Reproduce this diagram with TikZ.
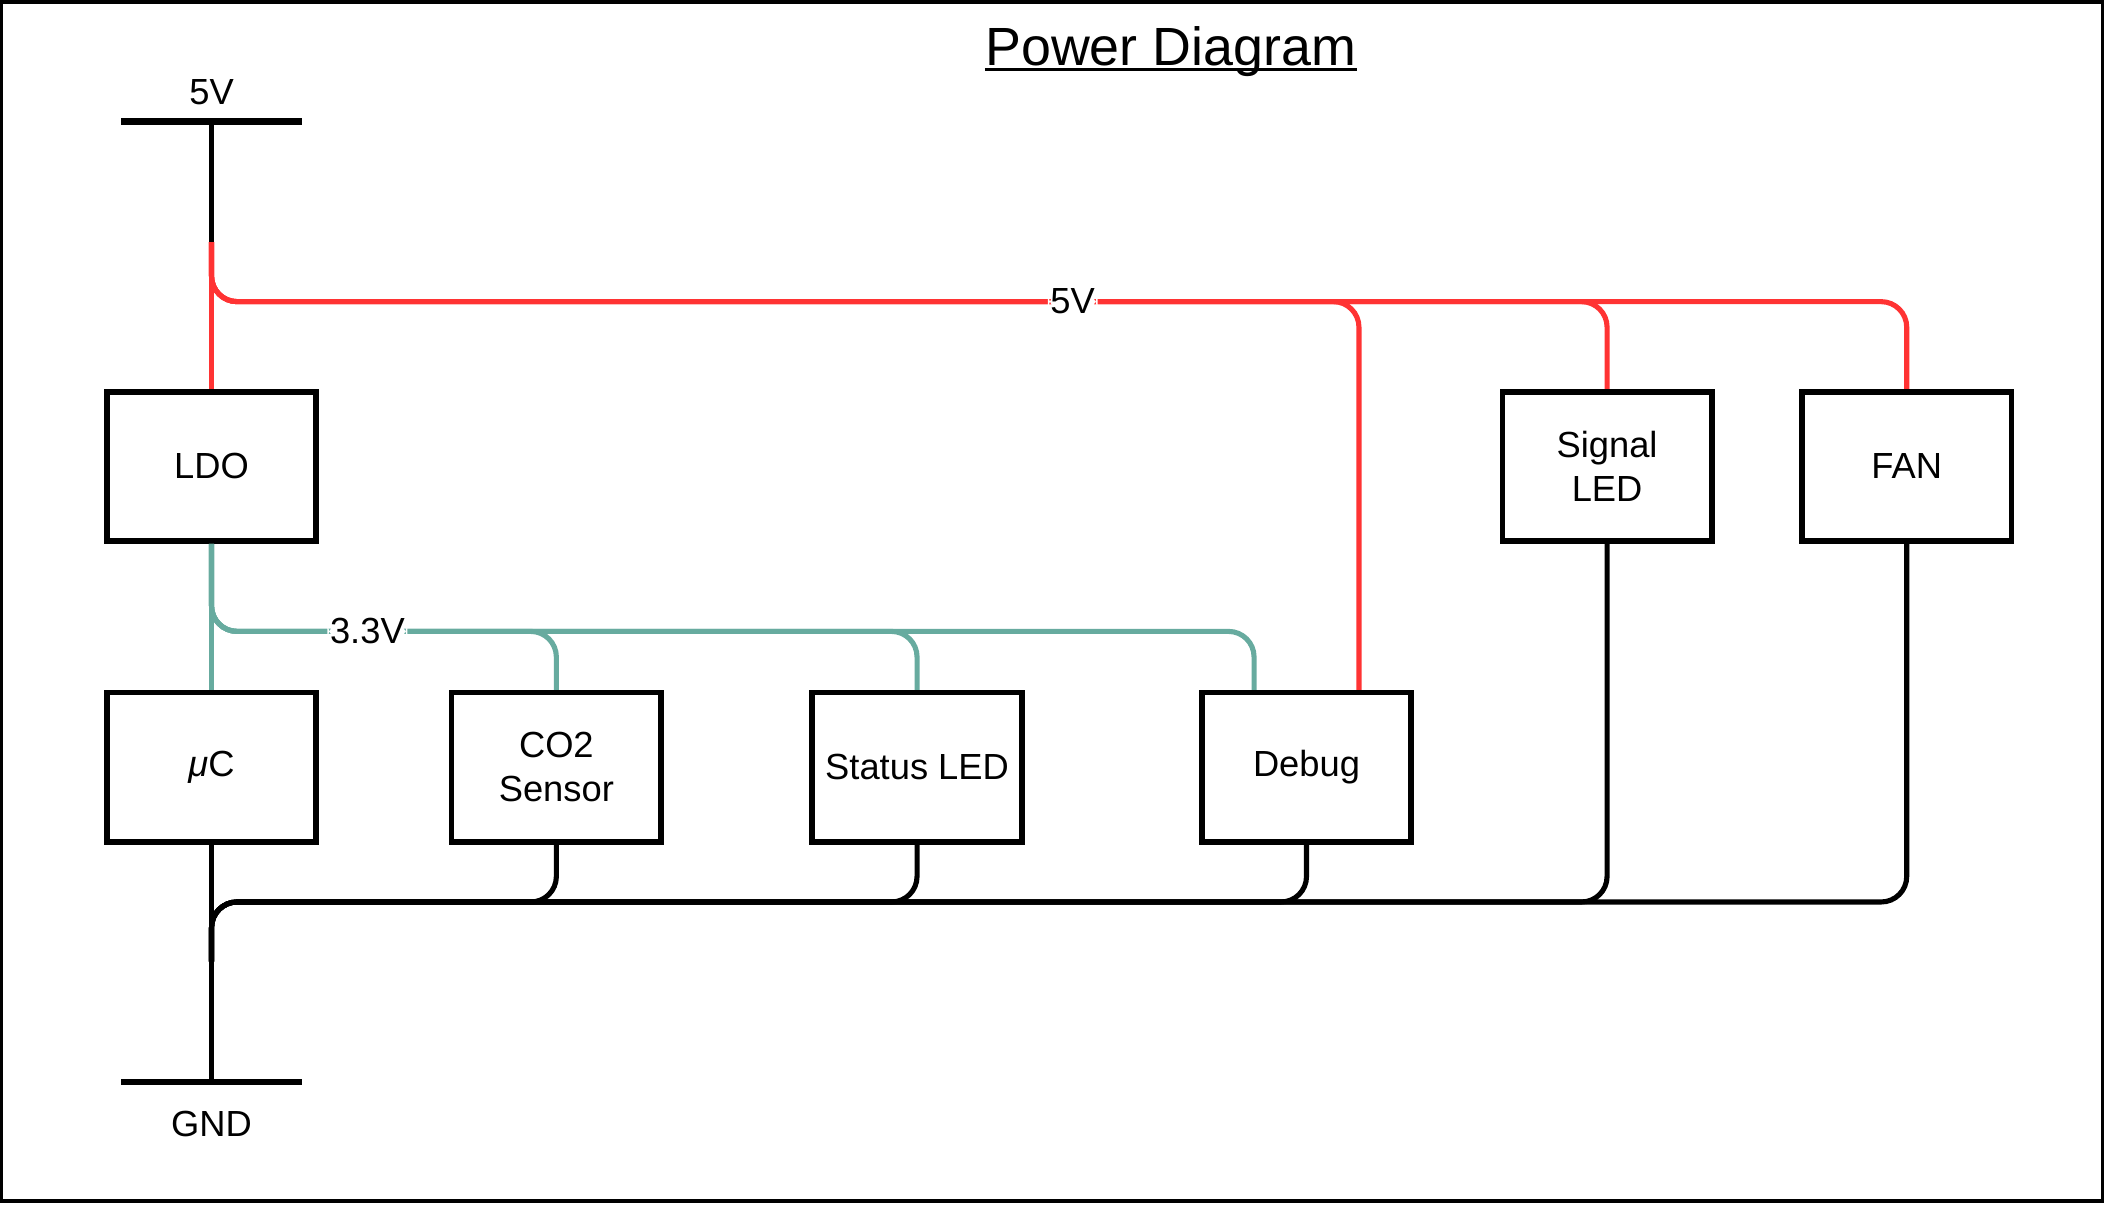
\documentclass[tikz,border=0pt]{standalone}
\usepackage{fontspec}
\setmainfont{Liberation Sans}
\usepackage{xcolor}
\usepackage{tikz}
\usetikzlibrary{positioning}
\definecolor{vred}{HTML}{FF3333}
\definecolor{vteal}{HTML}{67AB9F}

\begin{document}
\begin{tikzpicture}[x=0.5pt, y=-0.5pt, node distance=5pt]
  \tikzstyle{every node}=[font=\fontsize{13.5}{16.5}\selectfont]
  \tikzstyle{block}=[rectangle, draw, fill=white, line width=2.1pt, minimum width=77.9pt, minimum height=55.5pt, inner sep=0pt, align=center]
  \tikzstyle{rail}=[rectangle, fill=black, minimum width=67pt, minimum height=2.3pt, inner sep=0pt, outer sep=0pt]
  \tikzstyle{wire}=[line width=1.9pt, rounded corners=9.5pt]
  \tikzstyle{volt}=[fill=white, inner sep=1pt]

  \useasboundingbox (0,0) rectangle (1566,897);
  \draw[line width=1.25pt] (1.3,1.5) rectangle (1563.5,893);

  % title
  \node[font=\fontsize{20}{24}\selectfont, inner sep=0pt, anchor=base] (title) at (870.5,48.6) {Power Diagram};
  \draw[line width=1.1pt] ([yshift=-1.7pt]title.base west) -- ([yshift=-1.7pt]title.base east);

  % rails
  \node[rail] (vcc) at (157.3,90.4) {};
  \node[rail] (gnd) at (157.3,804.3) {};
  \node[inner sep=0pt] (vcclabel) [above=of vcc] {5V};
  \node[inner sep=0pt] (gndlabel) [below=9.5pt of gnd] {GND};

  % blocks
  \node[block] (ldo) at (157.3,346.8) {LDO};
  \node[block] (sig) at (1195,346.8) {Signal\\LED};
  \node[block] (fan) at (1417.8,346.8) {FAN};
  \node[block] (uc)  at (157.3,570.5) {{\itshape μ}C};
  \node[block] (co2) at (413.7,570.5) {CO2\\Sensor};
  \node[block] (led) at (681.9,570.5) {Status LED};
  \node[block] (dbg) at (971.5,570.5) {Debug};

  \coordinate (j5) at (157.3,180);
  \coordinate (gj) at (157.3,715);
  \coordinate (bus5) at (0,224.3);
  \coordinate (bus3) at (0,469.5);
  \coordinate (gbus) at (0,670.7);
  \coordinate (dbg5) at ([xshift=19.5pt]dbg.north);
  \coordinate (dbg3) at ([xshift=-19.5pt]dbg.north);

  % 5V
  \draw[wire] (vcc) -- (j5);
  \draw[wire, vred] (j5) -- (ldo.north);
  \draw[wire, vred] (j5) |- (bus5 -| dbg5) -- (dbg5);
  \draw[wire, vred] (j5) |- (bus5 -| sig.north) -- (sig.north);
  \draw[wire, vred] (j5) |- node[volt, pos=0.754, text=black] {5V} (bus5 -| fan.north) -- (fan.north);

  % 3.3V
  \draw[wire, vteal] (ldo.south) -- (uc.north);
  \draw[wire, vteal] (ldo.south) |- (bus3 -| led.north) -- (led.north);
  \draw[wire, vteal] (ldo.south) |- (bus3 -| dbg3) -- (dbg3);
  \draw[wire, vteal] (ldo.south) |- node[volt, pos=0.726, text=black] {3.3V} (bus3 -| co2.north) -- (co2.north);

  % GND
  \draw[wire] (uc.south) -- (gnd);
  \draw[wire] (co2.south) |- (gbus -| gj) -- (gj);
  \draw[wire] (led.south) |- (gbus -| gj) -- (gj);
  \draw[wire] (dbg.south) |- (gbus -| gj) -- (gj);
  \draw[wire] (sig.south) |- (gbus -| gj) -- (gj);
  \draw[wire] (fan.south) |- (gbus -| gj) -- (gj);
\end{tikzpicture}
\end{document}
